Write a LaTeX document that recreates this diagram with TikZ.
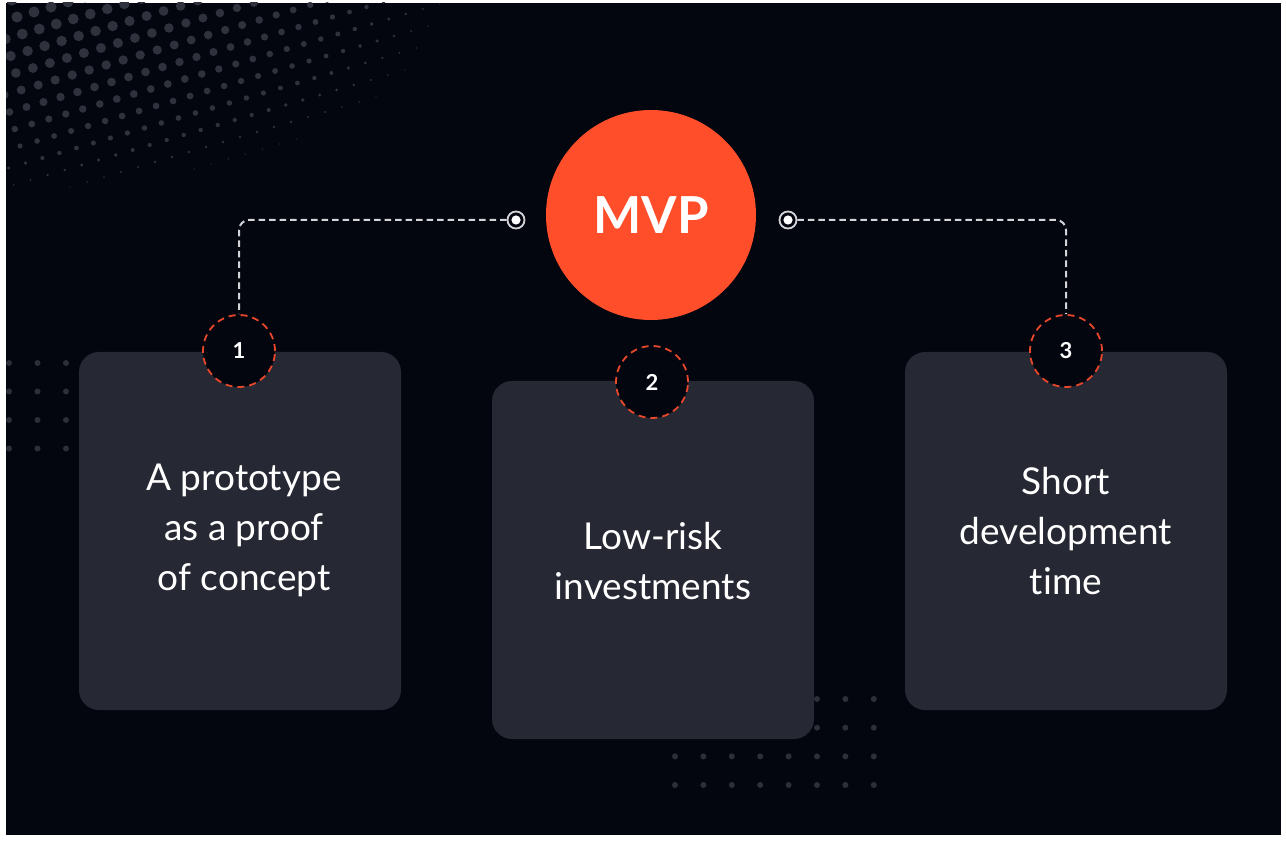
\documentclass[tikz,border=0pt]{standalone}
\usepackage{fontspec}
\setmainfont{Lato}[Ligatures=NoCommon]
\definecolor{bgc}{HTML}{03050F}
\definecolor{cardc}{HTML}{262833}
\definecolor{dotc}{HTML}{2C2E3A}
\definecolor{tonec}{HTML}{2F313D}
\definecolor{mvpc}{HTML}{FF4E29}
\definecolor{dashc}{HTML}{E8472B}
\definecolor{linkc}{HTML}{D4D4D8}
\begin{document}
\begin{tikzpicture}[x=1pt,y=-1pt,
  card/.style={fill=cardc, rounded corners=20pt, minimum width=322, minimum height=358,
    inner sep=0pt, text=white, align=center, font=\fontsize{37}{50}\selectfont},
  badge/.style={circle, draw=dashc, fill=bgc, line width=1.8pt, minimum size=72,
    inner sep=0pt, dash pattern=on 7pt off 5pt, text=white,
    font=\fontsize{22}{22}\selectfont\bfseries},
  ring/.style={circle, draw=linkc, fill=bgc, line width=1.8pt, minimum size=17,
    inner sep=0pt, path picture={\fill[white] (path picture bounding box.center) circle (4.6);}},
  link/.style={draw=linkc, line width=2pt, dash pattern=on 6.5pt off 4pt, rounded corners=10pt},
  griddot/.style={fill=dotc}
]
\useasboundingbox (0,0) rectangle (1286,842);
\fill[white] (0,0) rectangle (1286,842);
\fill[bgc] (6,3) rectangle (1281,835);

% halftone dots fading out from the top-left corner
\begin{scope}
\clip (6,3) rectangle (1281,835);
\foreach \i in {-3,...,30}{
  \foreach \j in {-2,...,13}{
    \pgfmathsetmacro{\px}{17*\i+5.3*\j+17}
    \pgfmathsetmacro{\py}{-5*\i+17*\j+17}
    \pgfmathsetmacro{\rr}{5.6*(1-((\px/465)^2+(\py/200)^2))}
    \pgfmathparse{(\rr>0.55)&&(\px>-6)&&(\py>-6)?1:0}
    \ifnum\pgfmathresult=1
      \fill[tonec] (\px,\py) circle (\rr);
    \fi
  }
}
\end{scope}

% dot grids behind the cards
\foreach \cx in {9,37.5,66}
  \foreach \cy in {363,391.5,420,448.5}
    \fill[griddot] (\cx,\cy) circle (3);
\foreach \k in {0,...,7}
  \foreach \cy in {699,727.7,756.4,785}
    \fill[griddot] (675+28.4*\k,\cy) circle (3);

% cards
\node[card] (c1) at (240,531) {};
\node[card] (c2) at (653,560) {};
\node[card] (c3) at (1066,531) {};
\node[card, fill=none] at (244,530) {A prototype\\as a proof\\of concept};
\node[card, fill=none] at (653,561) {Low-risk\\investments};
\node[card, fill=none] at (1066,531) {Short\\development\\time};

% central circle
\node[circle, fill=mvpc, minimum size=210, inner sep=0pt, text=white,
  font=\fontsize{51}{51}\selectfont\bfseries] (mvp) at (651,215) {MVP};

% numbered badges
\node[badge] (n1) at (239,351) {1};
\node[badge] (n2) at (652,382) {2};
\node[badge] (n3) at (1066,351) {3};

% connector ends
\node[ring] (r1) at (516,220) {};
\node[ring] (r2) at (788,220) {};

% connectors
\draw[link] (r1.west) -| (n1.north);
\draw[link] (r2.east) -| (n3.north);
\end{tikzpicture}
\end{document}
